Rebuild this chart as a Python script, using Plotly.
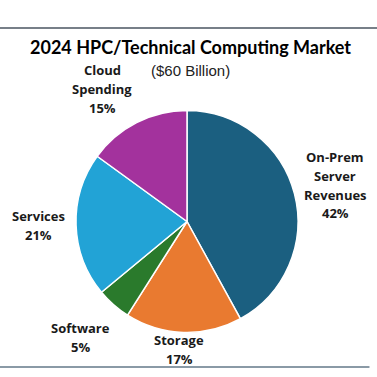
import plotly.graph_objects as go

categories = ["On-Prem Server Revenues", "Storage", "Software", "Services", "Cloud Spending"]
label_lines = [["On-Prem", "Server", "Revenues"], ["Storage"], ["Software"], ["Services"], ["Cloud", "Spending"]]
shares = [42, 17, 5, 21, 15]
colors = ["#1B5F80", "#E97A30", "#2A7A2C", "#22A3D6", "#A3329D"]
title_text = "2024 HPC/Technical Computing Market"
subtitle_text = "($60 Billion)"

W = H = 377
# pixel position of the first text line of each label, and line step
label_px = [(335, 157), (179, 340), (80, 328), (38, 216), (102, 70)]
LINE = 18.8

fig = go.Figure()
fig.add_trace(go.Pie(
    labels=categories,
    values=shares,
    sort=False,
    direction="clockwise",
    rotation=0,
    marker=dict(colors=colors, line=dict(color="white", width=1.5)),
    textinfo="none",
    hoverinfo="label+percent",
    showlegend=False,
    domain=dict(x=[(187 - 111) / W, (187 + 111) / W], y=[1 - 333 / H, 1 - 110 / H]),
))

for (px, py), lines, v in zip(label_px, label_lines, shares):
    for i, line in enumerate(lines + [f"{v}%"]):
        fig.add_annotation(x=px / W, y=1 - (py + i * LINE) / H, xref="paper", yref="paper",
                           text=f"<b>{line}</b>", showarrow=False,
                           font=dict(family="Open Sans", size=13, color="#1a1a1a"),
                           xanchor="center", yanchor="middle")

fig.add_annotation(x=190 / W, y=1 - 47 / H, xref="paper", yref="paper",
                   text=f"<b>{title_text}</b>", showarrow=False,
                   font=dict(family="Lato", size=18, color="#000000"),
                   xanchor="center", yanchor="middle")
fig.add_annotation(x=190 / W, y=1 - 71 / H, xref="paper", yref="paper",
                   text=subtitle_text, showarrow=False,
                   font=dict(family="Liberation Sans", size=15, color="#222222"),
                   xanchor="center", yanchor="middle")

fig.add_shape(type="line", xref="paper", yref="paper", x0=0, x1=1, y0=1 - 28 / H, y1=1 - 28 / H,
              line=dict(color="#4a5560", width=1.5))
fig.add_shape(type="line", xref="paper", yref="paper", x0=0, x1=0.98, y0=1 - 367 / H, y1=1 - 367 / H,
              line=dict(color="#8a9aa6", width=2))

fig.update_layout(width=W, height=H, margin=dict(l=0, r=0, t=0, b=0),
                  paper_bgcolor="white", plot_bgcolor="white")
fig.write_html("out.html", config={"displayModeBar": False},
               post_script="document.body.style.margin='0';document.body.style.padding='0';document.body.style.overflow='hidden';")
